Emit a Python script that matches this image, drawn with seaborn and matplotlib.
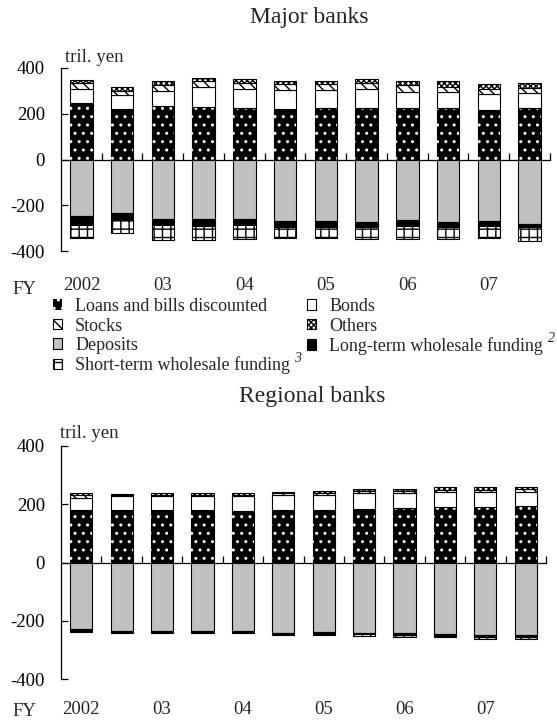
import numpy as np
import pandas as pd
import matplotlib
matplotlib.use("Agg")
import matplotlib.pyplot as plt
import seaborn as sns
from matplotlib.patches import Patch
from matplotlib.transforms import blended_transform_factory

# ---------------- data (tril. yen) ----------------
periods = ["02H1", "02H2", "03H1", "03H2", "04H1", "04H2",
           "05H1", "05H2", "06H1", "06H2", "07H1", "07H2"]
year_labels = ["2002", "03", "04", "05", "06", "07"]

major_loans = [249, 222, 235, 229, 225, 220, 223, 223, 223, 223, 217, 223]
major_bonds = [58, 58, 66, 87, 85, 84, 81, 84, 74, 70, 68, 67]
major_stocks = [26, 21, 25, 26, 23, 25, 25, 26, 29, 26, 25, 22]
major_others = [15, 16, 16, 13, 18, 16, 16, 18, 16, 23, 19, 21]
major_deposits = [249, 235, 258, 262, 262, 267, 270, 274, 265, 274, 270, 280]
major_longterm = [36, 29, 27, 28, 25, 26, 26, 21, 26, 20, 20, 17]
major_shortterm = [58, 58, 66, 62, 62, 50, 45, 54, 58, 54, 52, 60]

regional_loans = [179, 179, 179, 179, 176, 181, 179, 183, 186, 190, 190, 193]
regional_bonds = [44, 48, 48, 48, 51, 51, 52, 54, 53, 52, 52, 50]
regional_stocks = [8, 4, 5, 4, 4, 6, 9, 8, 8, 8, 8, 8]
regional_others = [7, 3, 6, 6, 6, 4, 6, 6, 6, 8, 8, 7]
regional_deposits = [230, 235, 235, 235, 235, 241, 239, 241, 243, 247, 248, 249]
regional_longterm = [5, 5, 5, 5, 5, 5, 6, 6, 7, 5, 4, 5]
regional_shortterm = [3, 3, 3, 3, 3, 2, 4, 4, 5, 5, 10, 8]

# ---------------- style ----------------
sns.set_theme(style="white")
FONT = ["Liberation Serif", "DejaVu Serif"]
plt.rcParams["font.family"] = FONT
plt.rcParams["hatch.linewidth"] = 1.0

W, H = 557, 720
fig = plt.figure(figsize=(W / 100, H / 100), dpi=100)
fig.patch.set_facecolor("white")

EDGE = "black"
LW = 0.8
BW = 0.55
GREY = "#c0c0c0"
FS = 13.5
LFS = 13


def layer(ax, vals, bottom, face, hatch=None, edge=EDGE, lw=LW):
    n0 = len(ax.patches)
    sns.barplot(x=periods, y=vals, order=periods, bottom=bottom, color=face,
                saturation=1, width=BW, errorbar=None, edgecolor=edge,
                linewidth=lw, hatch=hatch, ax=ax)
    new = ax.patches[n0:]
    for p in new:
        p.set_facecolor(face)
        p.set_edgecolor(edge)
        p.set_linewidth(lw)
        if hatch:
            p.set_hatch(hatch)
    return new


def draw_panel(ax, loans, bonds, stocks, others, deposits, longterm, shortterm):
    loans = np.array(loans, float)
    bonds = np.array(bonds, float)
    stocks = np.array(stocks, float)
    others = np.array(others, float)
    deposits = np.array(deposits, float)
    longterm = np.array(longterm, float)
    shortterm = np.array(shortterm, float)

    z = np.zeros(len(periods))
    layer(ax, loans, z, "black")
    dots = layer(ax, loans, z, "black", hatch="..", edge="white", lw=0)
    for p in dots:
        p.set_facecolor("none")
    layer(ax, bonds, loans, "white")
    layer(ax, stocks, loans + bonds, "white", hatch="\\\\\\")
    layer(ax, others, loans + bonds + stocks, "white", hatch="xxxxxx")
    layer(ax, -deposits, z, GREY)
    layer(ax, -longterm, -deposits, "black")
    layer(ax, -shortterm, -(deposits + longterm), "white", hatch="++")

    ax.set_xlim(-0.5, 11.5)
    ax.set_ylim(-400, 400)
    ax.set_xlabel("")
    ax.set_ylabel("")
    ax.set_facecolor("white")
    for s in ["top", "right"]:
        ax.spines[s].set_visible(False)
    ax.spines["left"].set_color("black")
    ax.spines["left"].set_linewidth(0.9)
    ax.spines["bottom"].set_color("black")
    ax.spines["bottom"].set_linewidth(0.9)
    ax.spines["bottom"].set_position(("data", 0))
    ax.spines["bottom"].set_zorder(0.5)
    ax.set_xticks(np.arange(0.5, 12, 1.0))
    ax.set_xticklabels([])
    ax.set_yticks([-400, -200, 0, 200, 400])
    ax.set_yticklabels(["-400", "-200", "0", "200", "400"])
    ax.tick_params(axis="x", direction="in", length=5, width=0.9, color="black",
                   bottom=True)
    ax.tick_params(axis="y", direction="in", length=5, width=0.9, color="black",
                   left=True, pad=11.5, labelsize=FS, labelcolor="black")
    for lab in ax.get_yticklabels():
        lab.set_fontfamily(FONT)


ax1 = fig.add_axes([61 / W, 1 - 251 / H, (550 - 61) / W, (251 - 68) / H])
draw_panel(ax1, major_loans, major_bonds, major_stocks, major_others,
           major_deposits, major_longterm, major_shortterm)
ax2 = fig.add_axes([61 / W, 1 - 679 / H, (546 - 61) / W, (679 - 446) / H])
draw_panel(ax2, regional_loans, regional_bonds, regional_stocks, regional_others,
           regional_deposits, regional_longterm, regional_shortterm)

# titles and units
fig.text(309 / W, 1 - 18 / H, "Major banks", ha="center", va="center", fontsize=17)
fig.text(312 / W, 1 - 396 / H, "Regional banks", ha="center", va="center", fontsize=17)
fig.text(65 / W, 1 - 58 / H, "tril. yen", ha="left", va="center", fontsize=FS)
fig.text(60 / W, 1 - 434 / H, "tril. yen", ha="left", va="center", fontsize=FS)

# FY labels
for ax, ypix in [(ax1, 286), (ax2, 709)]:
    tr = blended_transform_factory(ax.transData, fig.transFigure)
    for i, lab in enumerate(year_labels):
        ax.text(2 * i, 1 - ypix / H, lab, transform=tr, ha="center", va="center",
                fontsize=FS)
    fig.text(24 / W, 1 - (ypix + 3) / H, "FY", ha="center", va="center", fontsize=FS)

# legend
h_loans = Patch(facecolor="black", edgecolor="white", hatch="..", linewidth=0)
h_bonds = Patch(facecolor="white", edgecolor="black", linewidth=0.8)
h_stocks = Patch(facecolor="white", edgecolor="black", hatch="\\\\\\", linewidth=0.8)
h_others = Patch(facecolor="white", edgecolor="black", hatch="xxxxxx", linewidth=0.8)
h_dep = Patch(facecolor=GREY, edgecolor="black", linewidth=0.8)
h_long = Patch(facecolor="black", edgecolor="black", linewidth=0.8)
h_short = Patch(facecolor="white", edgecolor="black", hatch="++", linewidth=0.8)

leg_kw = dict(loc="upper left", frameon=False, fontsize=LFS, handlelength=0.5,
              handleheight=0.5, handletextpad=0.72, labelspacing=0.14,
              borderpad=0, borderaxespad=0)
fig.legend([h_loans, h_stocks, h_dep, h_short],
           ["Loans and bills discounted", "Stocks", "Deposits",
            "Short-term wholesale funding"],
           bbox_to_anchor=(53 / W, 1 - 298 / H), **leg_kw)
fig.legend([h_bonds, h_others, h_long],
           ["Bonds", "Others", "Long-term wholesale funding"],
           bbox_to_anchor=(307 / W, 1 - 298 / H), **leg_kw)
# footnote markers
fig.text(298 / W, 1 - 359 / H, "3", ha="center", va="center", fontsize=10,
         style="italic")
fig.text(551 / W, 1 - 339 / H, "2", ha="center", va="center", fontsize=10,
         style="italic")

fig.savefig("out.png", dpi=100, facecolor="white")
